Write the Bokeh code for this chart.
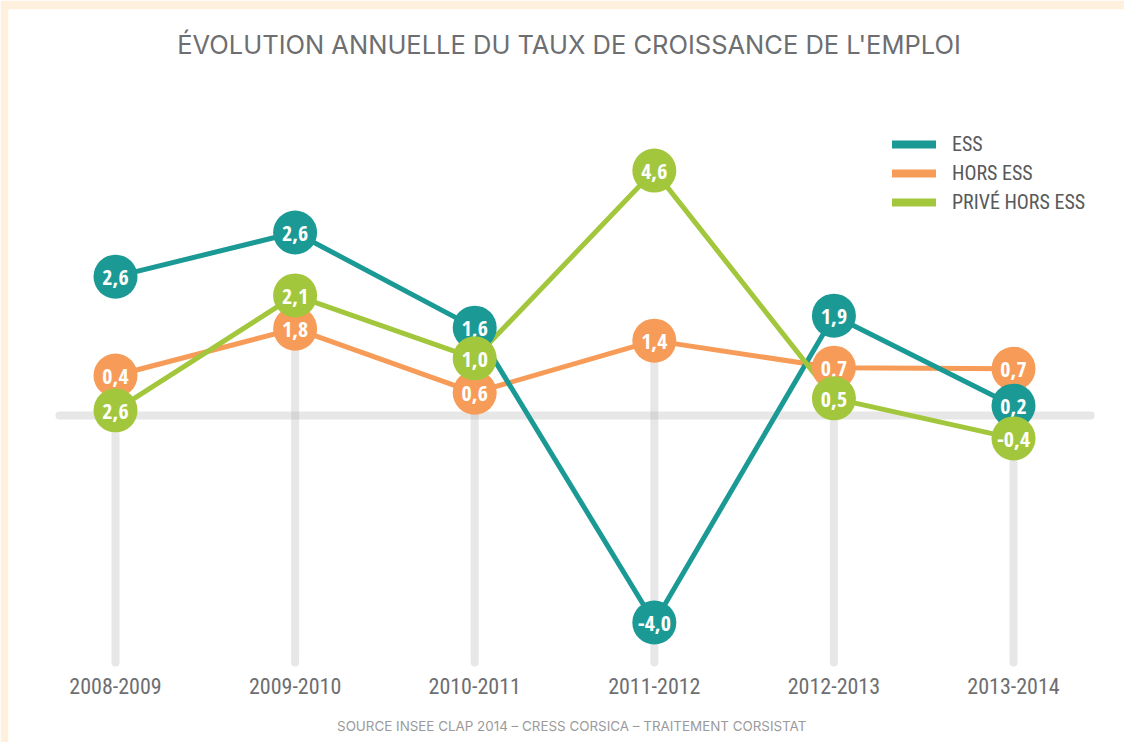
from bokeh.plotting import figure
from bokeh.models import ColumnDataSource, Legend, LegendItem, Range1d
from bokeh.core.properties import value
from bokeh.embed import file_html
from bokeh.resources import INLINE

# ---- data ----
periods = ["2008-2009", "2009-2010", "2010-2011", "2011-2012", "2012-2013", "2013-2014"]
# positions as drawn in the infographic
ess_y = [2.67, 3.52, 1.69, -3.98, 1.92, 0.19]
hors_y = [0.77, 1.67, 0.44, 1.44, 0.92, 0.90]
prive_y = [0.10, 2.31, 1.10, 4.71, 0.33, -0.44]
# labels as printed
ess_lab = ["2,6", "2,6", "1,6", "-4,0", "1,9", "0,2"]
hors_lab = ["0,4", "1,8", "0,6", "1,4", "0,7", "0,7"]
prive_lab = ["2,6", "2,1", "1,0", "4,6", "0,5", "-0,4"]
series_names = ["ESS", "HORS ESS", "PRIVÉ HORS ESS"]
title_text = "ÉVOLUTION ANNUELLE DU TAUX DE CROISSANCE DE L'EMPLOI"
source_text = "SOURCE INSEE CLAP 2014 – CRESS CORSICA – TRAITEMENT CORSISTAT"

C_ESS = "#1B9A95"
C_HORS = "#F79C58"
C_PRIVE = "#A3C73C"
GREY_TXT = "#6D6E71"
COND = "Roboto Condensed"
COND_BOLD = "Open Sans Condensed"

x = list(range(len(periods)))

p = figure(width=1124, height=742, output_backend="svg", toolbar_location=None,
           x_range=Range1d(-0.5958, 5.618), y_range=Range1d(-6.288, 7.808),
           min_border_left=8, min_border_top=9, min_border_right=0, min_border_bottom=0,
           background_fill_color="white", border_fill_color="#FFF0DD",
           outline_line_color=None)
p.axis.visible = False
p.grid.visible = False

BOTTOM = -4.75
# grey guides
p.segment(x0=[-0.312], y0=[0], x1=[5.43], y1=[0], line_color="#B0B0B0",
          line_alpha=0.3, line_width=8, line_cap="round")
p.segment(x0=x, y0=hors_y, x1=x, y1=[BOTTOM] * len(x), line_color="#B0B0B0",
          line_alpha=0.3, line_width=8, line_cap="round")

# category labels
p.text(x=x, y=[-5.2] * len(x), text=periods, text_align="center", text_baseline="middle",
       text_color=GREY_TXT, text_font=value(COND), text_font_size="22px")

# lines
p.line(x, hors_y, line_color=C_HORS, line_width=5, line_join="round")
p.line(x, ess_y, line_color=C_ESS, line_width=5, line_join="round")
p.line(x, prive_y, line_color=C_PRIVE, line_width=5, line_join="round")

for ys, labs, col in [(hors_y, hors_lab, C_HORS), (ess_y, ess_lab, C_ESS), (prive_y, prive_lab, C_PRIVE)]:
    src = ColumnDataSource(dict(x=x, y=ys, t=labs))
    p.scatter("x", "y", source=src, size=44, fill_color=col, line_color=None)
    p.text("x", "y", text="t", source=src, text_align="center", text_baseline="middle",
           text_color="white", text_font=value(COND_BOLD), text_font_style="bold",
           text_font_size="22px", y_offset=1)

# legend (dummy renderers with thick round lines, nothing drawn in the plot)
nan = float("nan")
leg_rs = []
for col in [C_ESS, C_HORS, C_PRIVE]:
    leg_rs.append(p.line([0, 1], [nan, nan], line_color=col, line_width=8, line_cap="round"))
legend = Legend(items=[LegendItem(label=n, renderers=[r]) for n, r in zip(series_names, leg_rs)],
                location=(884, 528), glyph_width=44, glyph_height=20, spacing=5,
                label_standoff=16, padding=0, margin=0, border_line_color=None,
                background_fill_alpha=0, label_text_font=COND, label_text_font_size="20px",
                label_text_color="#58595B", label_height=20)
p.add_layout(legend, "center")

# title & source
p.text(x=[2.525], y=[7.14], text=[title_text], text_align="center", text_baseline="middle",
       text_color=GREY_TXT, text_font=value("Inter"), text_font_size="25.5px")
p.text(x=[2.54], y=[-5.98], text=[source_text], text_align="center", text_baseline="middle",
       text_color="#9A9A9C", text_font=value("Inter"), text_font_size="13.4px")

open("out.html", "w").write(file_html(p, INLINE))
